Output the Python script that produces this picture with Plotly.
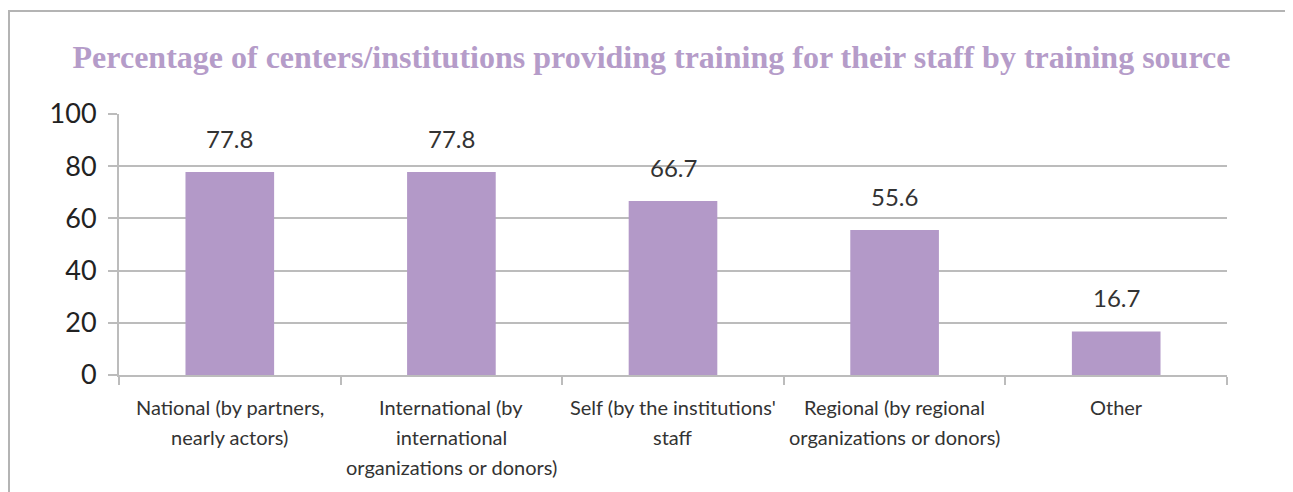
import plotly.graph_objects as go

categories = [
    "National (by partners,<br>nearly actors)",
    "International (by<br>international<br>organizations or donors)",
    "Self (by the institutions'<br>staff",
    "Regional (by regional<br>organizations or donors)",
    "Other",
]
values = [77.8, 77.8, 66.7, 55.6, 16.7]
labels = ["77.8", "77.8", "66.7", "55.6", "16.7"]
y_ticks = [0, 20, 40, 60, 80, 100]

# page body has an 8px default margin, so the figure is drawn 8px smaller
W, H = 1285, 484
L, R, T, B = 111, 66, 106, 117
pw, ph = W - L - R, H - T - B

def px_x(p):
    return (p - L) / pw

def px_y(p):
    return (H - B - p) / ph

fig = go.Figure()
fig.add_trace(go.Bar(
    x=categories, y=values, width=0.4,
    marker=dict(color="#b399c8", line=dict(width=0)),
    hoverinfo="skip",
))

for c, v, t in zip(categories, values, labels):
    fig.add_annotation(x=c, y=v, text=t, showarrow=False, yanchor="bottom",
                       yshift=17, font=dict(family="Lato", size=24, color="#333333"))

# category labels, one annotation per line for Excel-like line spacing
for c in categories:
    for i, line in enumerate(c.split("<br>")):
        fig.add_annotation(x=c, y=0, yref="paper", text=line, showarrow=False,
                           yanchor="middle", yshift=-32 - 30 * i,
                           font=dict(family="Lato", size=20, color="#333333"))

grey = "#bcbcbc"
fig.update_layout(
    width=W, height=H,
    margin=dict(l=L, r=R, t=T, b=B),
    paper_bgcolor="white", plot_bgcolor="white",
    showlegend=False,
    bargap=0.6,
    title=dict(
        text="Percentage of centers/institutions providing training for their staff by training source",
        font=dict(family="Liberation Serif", size=32, color="#b59cc9", weight="bold"),
        x=643.5 / W, xanchor="center", y=1 - 49 / H, yanchor="middle", xref="container", yref="container",
    ),
    xaxis=dict(
        type="category", tickson="boundaries", ticks="outside", ticklen=8, tickwidth=2, tickcolor=grey,
        showline=True, linecolor=grey, linewidth=2, showgrid=False, showticklabels=False,
    ),
    yaxis=dict(
        range=[0, 100], tickvals=y_ticks, ticks="outside", ticklen=9, tickwidth=2, tickcolor=grey,
        showline=True, linecolor=grey, linewidth=2,
        showgrid=True, gridcolor=grey, gridwidth=2, zeroline=False,
        tickfont=dict(family="Lato", size=27, color="#222222"), ticklabelstandoff=6,
    ),
    shapes=[
        dict(type="line", xref="paper", yref="paper", x0=px_x(0), x1=px_x(W), y0=px_y(3), y1=px_y(3),
             line=dict(color="#b4b4b4", width=2)),
        dict(type="line", xref="paper", yref="paper", x0=px_x(1), x1=px_x(1), y0=px_y(3), y1=px_y(H),
             line=dict(color="#b4b4b4", width=2)),
    ],
)

fig.write_html("out.html")
